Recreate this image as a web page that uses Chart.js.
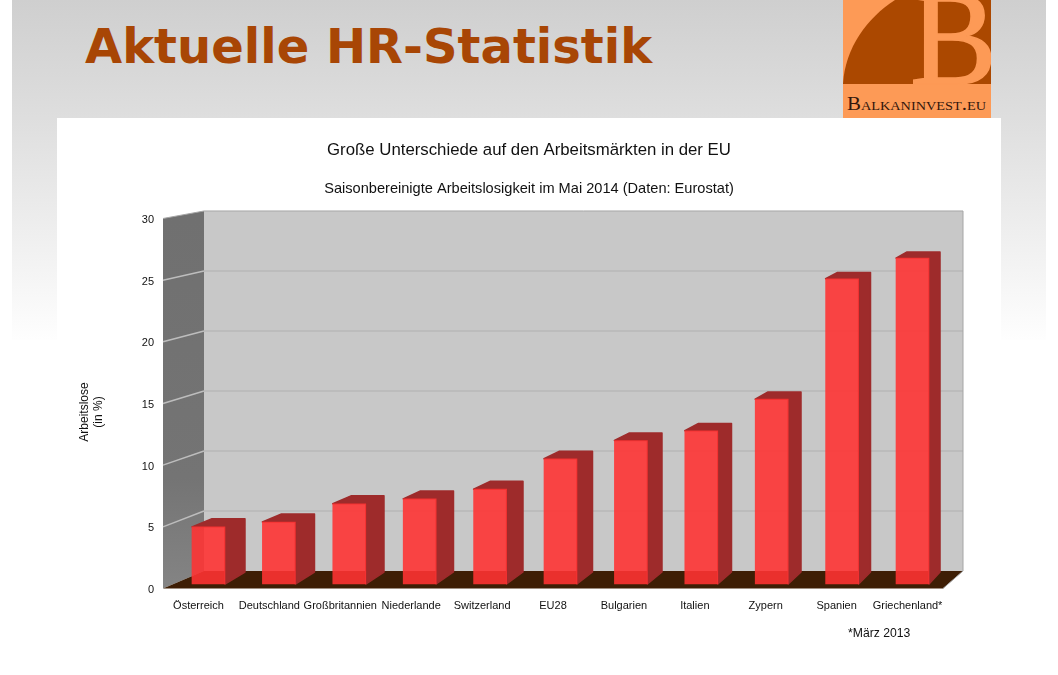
<!DOCTYPE html>
<html>
<head>
<meta charset="utf-8">
<title>Aktuelle HR-Statistik</title>
<script src="https://cdn.jsdelivr.net/npm/chart.js@4"></script>
<style>
    html, body { margin: 0; padding: 0; background: #fff; overflow: hidden; }
    #page { position: relative; width: 1058px; height: 675px; overflow: hidden; }
    #band { position: absolute; left: 12px; top: 0; width: 1034px; height: 340px;
        background: linear-gradient(#cfcfcf 0, #dedede 118px, #fefefe 340px); }
    #panel { position: absolute; left: 57px; top: 118px; width: 944px; height: 557px; background: #fff; }
    #headline { position: absolute; left: 85px; top: 18px; font: bold 48px "DejaVu Sans"; color: #a84605; white-space: nowrap; }
    #logo { position: absolute; left: 843px; top: 0; }
    #note { position: absolute; left: 848px; top: 625.5px; font: 12.2px "Liberation Sans"; color: #111; white-space: nowrap; }
    canvas { position: absolute; left: 0; top: 0; }
</style>
</head>
<body>
<div id="page">
    <div id="band"></div>
    <div id="panel"></div>
    <div id="headline">Aktuelle HR-Statistik</div>
    <svg id="logo" width="148" height="118" viewBox="0 0 148 118">
        <rect width="148" height="118" fill="#fd9a56"/>
        <path d="M0 84 C2 48 24 18 52 0 L148 0 L148 84 Z" fill="#ab4800"/>
        <text transform="translate(67 84) scale(.96 1)" font-family="Liberation Serif" font-size="136" fill="#fd9a56" stroke="#fd9a56" stroke-width="1.6">B</text>
        <text x="4" y="110" font-family="Liberation Serif" font-size="19" fill="#33160c" style="font-variant: small-caps" textLength="139" lengthAdjust="spacingAndGlyphs">Balkaninvest.eu</text>
    </svg>
    <canvas id="chart" width="1058" height="675"></canvas>
    <div id="note">*März 2013</div>
</div>
<script>
const countries = ["Österreich", "Deutschland", "Großbritannien", "Niederlande", "Switzerland", "EU28", "Bulgarien", "Italien", "Zypern", "Spanien", "Griechenland*"];
const unemployment = [4.7, 5.1, 6.6, 7.0, 7.8, 10.3, 11.8, 12.6, 15.2, 25.1, 26.8];
const yTicks = [0, 5, 10, 15, 20, 25, 30];

// draws the fake 3d box and the side faces of the bars
const box3d = {
    id: "box3d",
    beforeDatasetsDraw(chart) {
        const c = chart.ctx;
        const area = chart.chartArea;
        const front = chart.scales.y;
        const back = chart.scales.y2;
        const backLeft = 204, backRight = 963;
        const lift = 1.5; // labels sit a little under the wall lines
        const frontTop = area.top - lift, frontBottom = area.bottom - lift;

        function poly(points, fill) {
            c.beginPath();
            points.forEach((p, i) => i ? c.lineTo(p[0], p[1]) : c.moveTo(p[0], p[1]));
            c.closePath();
            c.fillStyle = fill;
            c.fill();
        }

        const top = back.getPixelForValue(30), bottom = back.getPixelForValue(0);

        // back wall
        poly([[backLeft, top], [backRight, top], [backRight, bottom], [backLeft, bottom]], "#c8c8c8");
        // left wall
        const wall = c.createLinearGradient(0, frontTop, 0, frontBottom);
        wall.addColorStop(0, "#707070");
        wall.addColorStop(0.7, "#747474");
        wall.addColorStop(1, "#848484");
        poly([[area.left, frontTop], [backLeft, top], [backLeft, bottom], [area.left, frontBottom]], wall);
        // floor
        poly([[area.left, frontBottom], [backLeft, bottom], [backRight, bottom], [area.right, frontBottom]], "#3e1e05");

        // grid lines
        yTicks.forEach(v => {
            if (v === 0 || v === 30) return;
            const yb = back.getPixelForValue(v);
            c.strokeStyle = "#bcbcbc";
            c.lineWidth = 2;
            c.beginPath();
            c.moveTo(backLeft, yb);
            c.lineTo(backRight, yb);
            c.stroke();
            c.strokeStyle = "#bdbdbd";
            c.lineWidth = 1.5;
            c.beginPath();
            c.moveTo(area.left, front.getPixelForValue(v) - lift);
            c.lineTo(backLeft, yb);
            c.stroke();
        });

        // wall outline
        c.strokeStyle = "#a6a6a6";
        c.lineWidth = 1;
        c.beginPath();
        c.moveTo(area.left, frontTop);
        c.lineTo(backLeft, top);
        c.lineTo(backRight, top);
        c.lineTo(backRight, bottom);
        c.lineTo(area.right, frontBottom);
        c.stroke();

        // side and top faces of the bars
        const bars = chart.getDatasetMeta(0).data;
        const base = chart.scales.y1.getPixelForValue(0);
        bars.forEach((bar, i) => {
            const half = bar.width / 2;
            const xl = bar.x - half, xr = bar.x + half;
            const dx = 20 - 9 * (xl - 192) / 704;
            const dy = 8.5 - 0.09 * unemployment[i];
            poly([[xl, bar.y], [xl + dx, bar.y - dy], [xr + dx, bar.y - dy], [xr + dx, base - 12], [xr, base], [xr, bar.y]], "#9e2b2b");
            c.lineJoin = "round";
            c.lineWidth = 1.5;
            c.strokeStyle = "#9e2b2b";
            c.stroke();
        });
    },
    afterDraw(chart) {
        // axis caption, sits lower than the scale centre so not the built in title
        const c = chart.ctx;
        c.save();
        c.translate(85, 412);
        c.rotate(-Math.PI / 2);
        c.font = "12px 'Liberation Sans'";
        c.fillStyle = "#111";
        c.textAlign = "center";
        c.textBaseline = "middle";
        c.fillText("Arbeitslose", 0, 0);
        c.fillText("(in %)", 0, 14);
        c.restore();
    }
};

new Chart(document.getElementById("chart"), {
    type: "bar",
    plugins: [box3d],
    data: {
        labels: countries,
        datasets: [{
            data: unemployment.map((v, i) => ({ x: i, y: v })),
            xAxisID: "x1",
            yAxisID: "y1",
            backgroundColor: "rgba(255,50,50,0.89)",
            barThickness: 33,
            borderWidth: 0
        }]
    },
    options: {
        responsive: false,
        animation: false,
        events: [],
        layout: { padding: { left: 115, right: 115, top: 0, bottom: 0 } },
        plugins: {
            legend: { display: false },
            tooltip: { enabled: false },
            title: {
                display: true,
                text: "Große Unterschiede auf den Arbeitsmärkten in der EU",
                color: "#111",
                font: { family: "Liberation Sans", size: 16.8, weight: "normal" },
                padding: { top: 140, bottom: 20.4 }
            },
            subtitle: {
                display: true,
                text: "Saisonbereinigte Arbeitslosigkeit im Mai 2014 (Daten: Eurostat)",
                color: "#111",
                font: { family: "Liberation Sans", size: 14.6, weight: "normal" },
                padding: { top: 0, bottom: 21.9 }
            }
        },
        scales: {
            x: {
                type: "category",
                position: "bottom",
                grid: { display: false, drawTicks: false },
                border: { display: false },
                ticks: { color: "#111", font: { family: "Liberation Sans", size: 11 }, padding: 9, maxRotation: 0, autoSkip: false },
                afterFit(scale) { scale.height = 85; }
            },
            // the bars stand a bit inside the box, so they get their own hidden scales
            x1: { type: "linear", display: false, offset: false, min: -0.646, max: 10.433 },
            y: {
                type: "linear",
                position: "left",
                min: 0,
                max: 30,
                grid: { display: false, drawTicks: false },
                border: { display: false },
                ticks: { stepSize: 5, color: "#111", font: { family: "Liberation Sans", size: 11 }, padding: 9 },
                afterFit(scale) { scale.width = 48; }
            },
            y1: { type: "linear", display: false, min: -0.493, max: 29.93 },
            y2: { type: "linear", display: false, min: -1.583, max: 29.25 }
        }
    }
});
</script>
</body>
</html>
